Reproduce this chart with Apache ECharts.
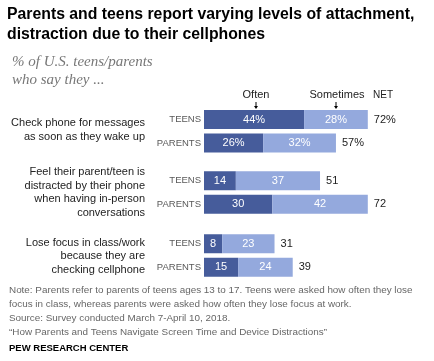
<!DOCTYPE html>
<html><head><meta charset="utf-8">
<script src="https://cdn.jsdelivr.net/npm/echarts@6/dist/echarts.min.js"></script>
<style>html,body{margin:0;padding:0;background:#fff}#c{width:434px;height:361px}</style>
</head><body><div id="c"></div>
<script>
const items = [
  "Check phone for messages\nas soon as they wake up",
  "Feel their parent/teen is\ndistracted by their phone\nwhen having in-person\nconversations",
  "Lose focus in class/work\nbecause they are\nchecking cellphone"
];
const groups = ["TEENS", "PARENTS"];
const often = [44, 26, 14, 30, 8, 15];
const sometimes = [28, 32, 37, 42, 23, 24];
const net = [72, 57, 51, 72, 31, 39];
const headers = ["Often", "Sometimes", "NET"];

const DARK = "#465c9b", LIGHT = "#94a9dd";
const FONT = "'Liberation Sans', Arial, sans-serif";
const gridTops = [107.75, 169, 232];
const gridHeights = [47, 47, 47];
const itemBottoms = [144, 220, 277];

const grids = [], xAxes = [], yAxes = [], series = [];
items.forEach((it, g) => {
  grids.push({left: 204, width: 227.5, top: gridTops[g], height: gridHeights[g], containLabel: false});
  xAxes.push({type: 'value', gridIndex: g, min: 0, max: 100, show: false});
  yAxes.push({type: 'category', gridIndex: g, data: groups, inverse: true,
    axisLine: {show: false}, axisTick: {show: false},
    axisLabel: {color: '#595959', fontSize: 9.5, fontFamily: FONT, margin: 3}});
  const o = often.slice(g * 2, g * 2 + 2), s = sometimes.slice(g * 2, g * 2 + 2), n = net.slice(g * 2, g * 2 + 2);
  const pct = g === 0 ? '%' : '';
  series.push({type: 'bar', xAxisIndex: g, yAxisIndex: g, stack: 's' + g, data: o, barWidth: 19,
    itemStyle: {color: DARK}, silent: true,
    label: {show: true, position: 'inside', color: '#fff', fontSize: 11, fontFamily: FONT,
      formatter: p => p.value + pct}});
  series.push({type: 'bar', xAxisIndex: g, yAxisIndex: g, stack: 's' + g, data: s, barWidth: 19,
    itemStyle: {color: LIGHT}, silent: true,
    label: {show: true, position: 'inside', color: '#fff', fontSize: 11, fontFamily: FONT,
      formatter: p => p.value + pct}});
  series.push({type: 'bar', xAxisIndex: g, yAxisIndex: g, stack: 's' + g, data: s.map(() => 0), barWidth: 19,
    itemStyle: {color: 'transparent'}, silent: true,
    label: {show: true, position: 'right', distance: 6, color: '#222', fontSize: 11, fontFamily: FONT,
      formatter: p => n[p.dataIndex] + pct}});
});

const graphic = [
  {type: 'text', left: 7, top: 5, style: {text: "Parents and teens report varying levels of attachment,\ndistraction due to their cellphones",
    font: "bold 15.8px 'Liberation Sans', sans-serif", fill: '#000', lineHeight: 19.5}},
  {type: 'text', left: 12, top: 53, style: {text: "% of U.S. teens/parents\nwho say they ...",
    font: "italic 15px 'Liberation Serif', serif", fill: '#777', lineHeight: 18}},
  {type: 'text', x: 256, y: 95, style: {text: headers[0], font: "11px " + FONT, fill: '#222', textAlign: 'center', textVerticalAlign: 'middle'}},
  {type: 'text', x: 337, y: 95, style: {text: headers[1], font: "11px " + FONT, fill: '#222', textAlign: 'center', textVerticalAlign: 'middle'}},
  {type: 'text', x: 383, y: 95, style: {text: headers[2], font: "10px " + FONT, fill: '#222', textAlign: 'center', textVerticalAlign: 'middle'}},
  {type: 'line', shape: {x1: 256, y1: 102, x2: 256, y2: 107}, style: {stroke: '#000', lineWidth: 1}},
  {type: 'polygon', shape: {points: [[254, 106], [258, 106], [256, 109]]}, style: {fill: '#000'}},
  {type: 'line', shape: {x1: 336, y1: 102, x2: 336, y2: 107}, style: {stroke: '#000', lineWidth: 1}},
  {type: 'polygon', shape: {points: [[334, 106], [338, 106], [336, 109]]}, style: {fill: '#000'}},
  {type: 'text', left: 9, top: 283, style: {text:
    "Note: Parents refer to parents of teens ages 13 to 17. Teens were asked how often they lose\nfocus in class, whereas parents were asked how often they lose focus at work.\nSource: Survey conducted March 7-April 10, 2018.\n\u201cHow Parents and Teens Navigate Screen Time and Device Distractions\u201d",
    font: "9.9px 'Liberation Sans', sans-serif", fill: '#666', lineHeight: 14}},
  {type: 'text', left: 9, top: 343, style: {text: "PEW RESEARCH CENTER",
    font: "bold 9.5px 'Liberation Sans', sans-serif", fill: '#000'}}
];
items.forEach((it, g) => {
  graphic.push({type: 'text', x: 145, y: itemBottoms[g], style: {text: it, font: "11px " + FONT, fill: '#222',
    textAlign: 'right', textVerticalAlign: 'bottom', lineHeight: 13.7}});
});

const chart = echarts.init(document.getElementById('c'), null, {renderer: 'canvas'});
chart.setOption({animation: false, grid: grids, xAxis: xAxes, yAxis: yAxes, series: series, graphic: graphic});
</script></body></html>
